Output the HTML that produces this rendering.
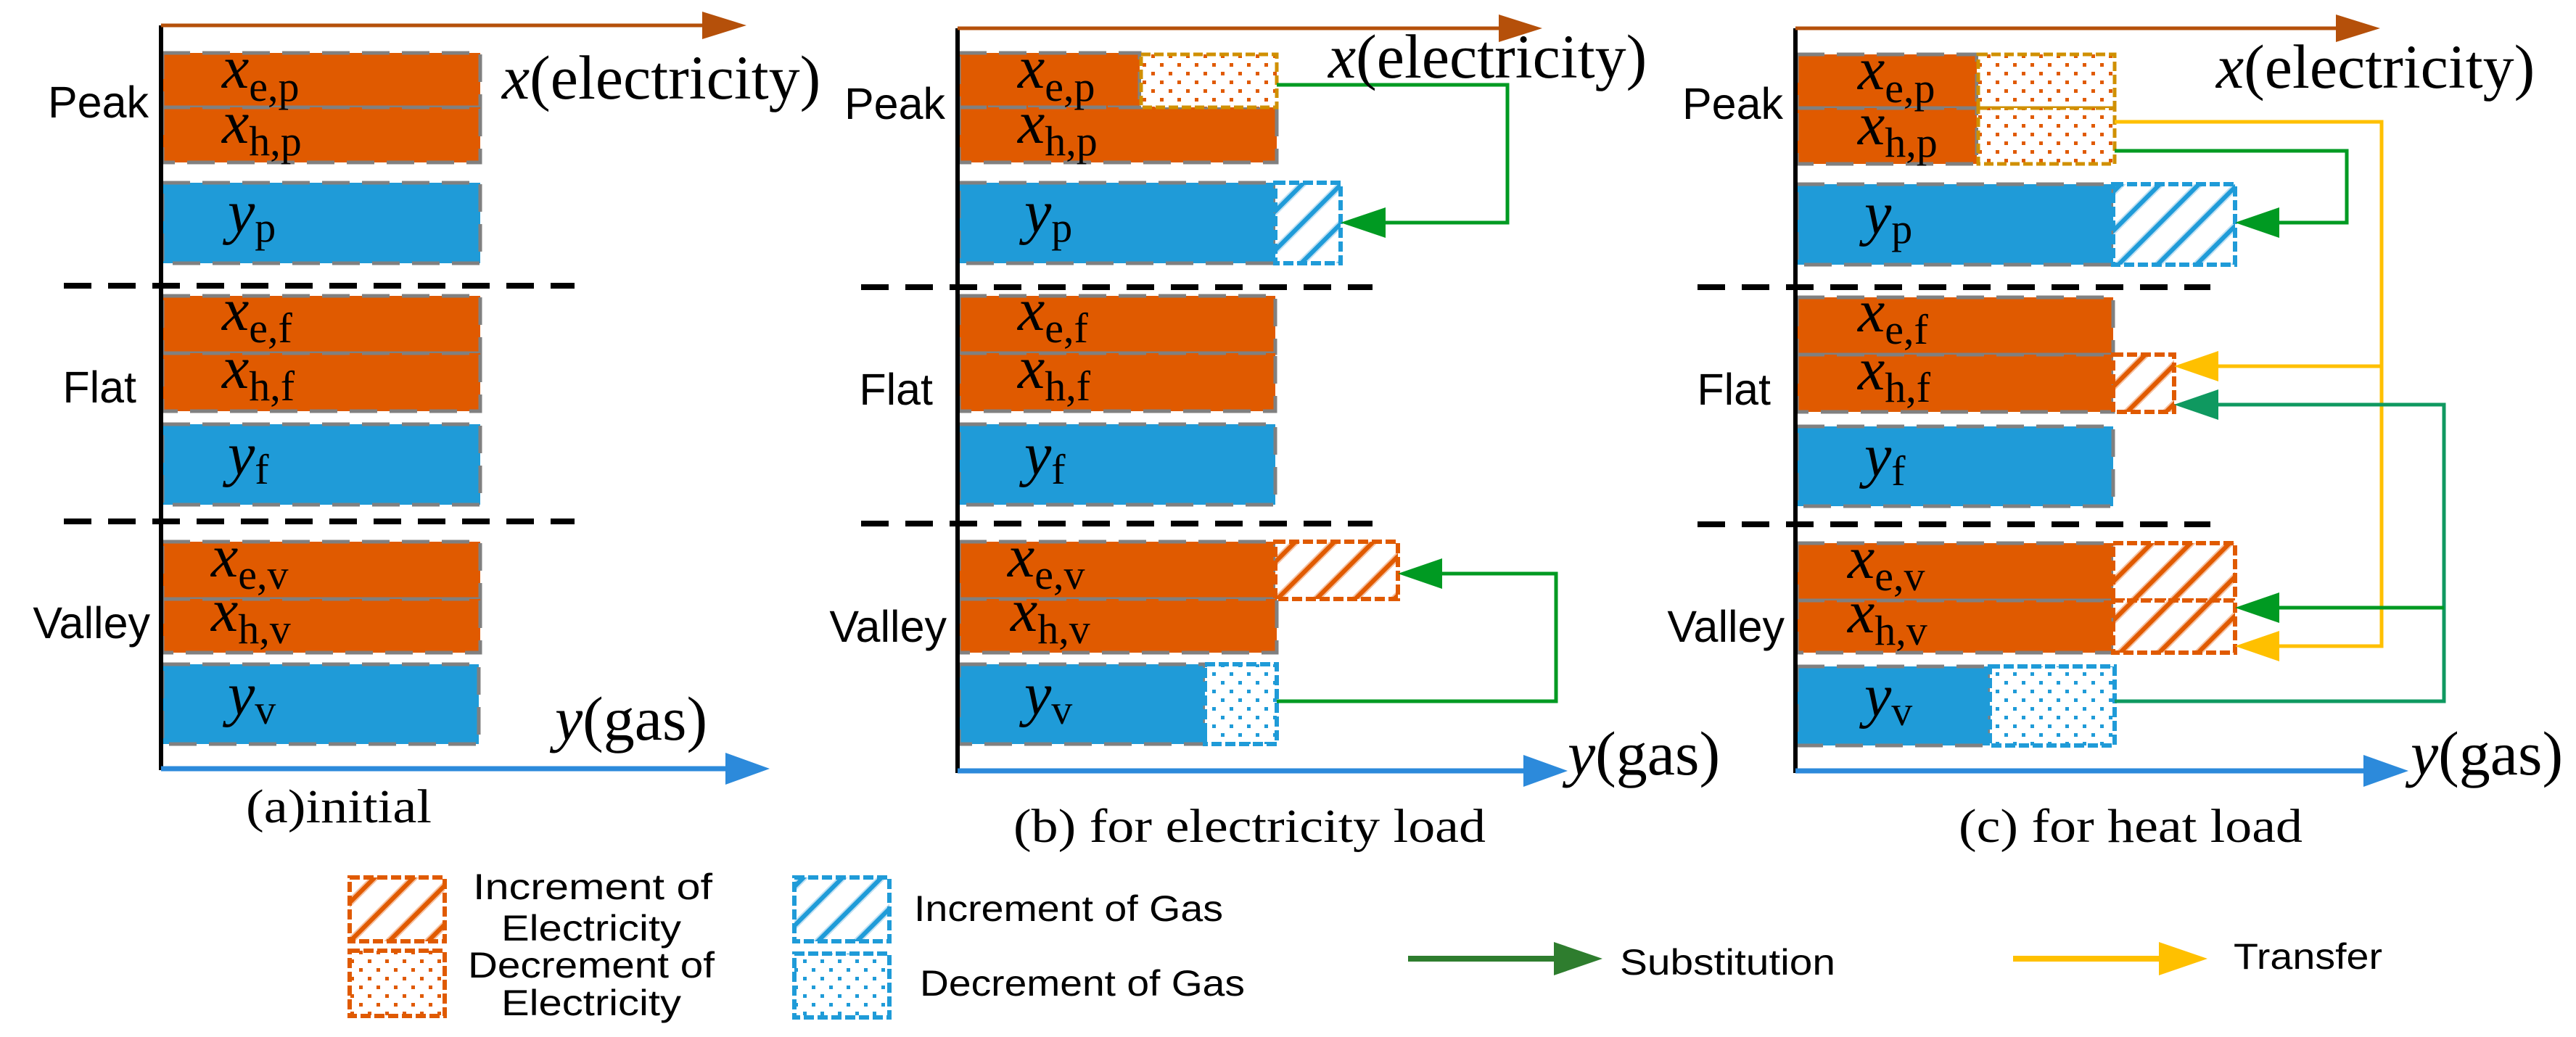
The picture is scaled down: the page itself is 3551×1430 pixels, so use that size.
<!DOCTYPE html>
<html><head><meta charset="utf-8"><style>
html,body{margin:0;padding:0;background:#fff}
svg{display:block}
.lab{font-family:"Liberation Sans",sans-serif;font-size:61px;fill:#000}
.m{font-family:"Liberation Serif",serif;font-size:84px;font-style:italic;fill:#000}
.s{font-style:normal;font-size:58px}
.cap{font-family:"Liberation Serif",serif;font-size:66px;fill:#000}
.ax{font-family:"Liberation Serif",serif;font-size:86px;fill:#000}
.lg{font-family:"Liberation Sans",sans-serif;font-size:50px;fill:#000}
</style></head><body>
<svg width="3551" height="1430" viewBox="0 0 3551 1430" xmlns="http://www.w3.org/2000/svg">
<defs>
<pattern id="dotO" width="24" height="24" patternUnits="userSpaceOnUse"><rect width="24" height="24" fill="#fff"/><rect x="3" y="3" width="5" height="5" fill="#E05A00"/><rect x="15" y="15" width="5" height="5" fill="#E05A00"/></pattern>
<pattern id="dotB" width="24" height="24" patternUnits="userSpaceOnUse"><rect width="24" height="24" fill="#fff"/><rect x="3" y="3" width="5" height="5" fill="#1F9BD8"/><rect x="15" y="15" width="5" height="5" fill="#1F9BD8"/></pattern>
<pattern id="hatO" width="38" height="38" patternUnits="userSpaceOnUse" patternTransform="rotate(45)"><rect width="38" height="38" fill="#fff"/><rect x="0" y="0" width="10" height="38" fill="#F5C0A0"/><rect x="2" y="0" width="6" height="38" fill="#E05A00"/></pattern>
<pattern id="hatB" width="38" height="38" patternUnits="userSpaceOnUse" patternTransform="rotate(45)"><rect width="38" height="38" fill="#fff"/><rect x="0" y="0" width="10" height="38" fill="#BFE0F3"/><rect x="2" y="0" width="6" height="38" fill="#1F9BD8"/></pattern>
</defs>

<!-- ================= PANEL A ================= -->
<g stroke="#808080" stroke-width="5" stroke-dasharray="38 17">
<rect x="224" y="73" width="438" height="75" fill="#E05A00"/>
<rect x="224" y="148" width="438" height="76" fill="#E05A00"/>
<rect x="224" y="252" width="438" height="111" fill="#1F9BD8"/>
<rect x="224" y="408" width="438" height="79" fill="#E05A00"/>
<rect x="224" y="487" width="438" height="80" fill="#E05A00"/>
<rect x="224" y="585" width="438" height="111" fill="#1F9BD8"/>
<rect x="224" y="747" width="438" height="79" fill="#E05A00"/>
<rect x="224" y="826" width="438" height="74" fill="#E05A00"/>
<rect x="224" y="916" width="436" height="110" fill="#1F9BD8"/>
</g>
<g stroke="#000" stroke-width="8" stroke-dasharray="38 23"><line x1="88" y1="394" x2="792" y2="394"/><line x1="88" y1="719" x2="792" y2="719"/></g>
<line x1="222" y1="35" x2="222" y2="1062" stroke="#000" stroke-width="6"/>
<line x1="222" y1="35" x2="970" y2="35" stroke="#B5500A" stroke-width="5"/>
<polygon points="968,16 1029,35 968,54" fill="#B5500A"/>
<line x1="222" y1="1060" x2="1002" y2="1060" stroke="#2C8ADB" stroke-width="7"/>
<polygon points="1000,1038 1061,1060 1000,1082" fill="#2C8ADB"/>
<text class="lab" x="205" y="162" text-anchor="end">Peak</text>
<text class="lab" x="188" y="555" text-anchor="end">Flat</text>
<text class="lab" x="207" y="880" text-anchor="end">Valley</text>
<text class="m" x="306" y="121">x<tspan class="s" dy="18">e,p</tspan></text>
<text class="m" x="306" y="197">x<tspan class="s" dy="17">h,p</tspan></text>
<text class="m" x="314" y="320">y<tspan class="s" dy="13">p</tspan></text>
<text class="m" x="306" y="455">x<tspan class="s" dy="17">e,f</tspan></text>
<text class="m" x="306" y="535">x<tspan class="s" dy="17">h,f</tspan></text>
<text class="m" x="314" y="654">y<tspan class="s" dy="13">f</tspan></text>
<text class="m" x="291" y="795">x<tspan class="s" dy="17">e,v</tspan></text>
<text class="m" x="291" y="870">x<tspan class="s" dy="17">h,v</tspan></text>
<text class="m" x="314" y="985">y<tspan class="s" dy="13">v</tspan></text>
<text class="ax" x="692" y="136"><tspan font-style="italic">x</tspan>(electricity)</text>
<text class="ax" x="765" y="1020"><tspan font-style="italic">y</tspan>(gas)</text>
<text class="cap" x="339" y="1134" textLength="256" lengthAdjust="spacingAndGlyphs">(a)initial</text>

<!-- ================= PANEL B ================= -->
<g stroke="#808080" stroke-width="5" stroke-dasharray="38 17">
<rect x="1322" y="73" width="249" height="75" fill="#E05A00"/>
<rect x="1322" y="148" width="438" height="76" fill="#E05A00"/>
<rect x="1322" y="252" width="436" height="111" fill="#1F9BD8"/>
<rect x="1322" y="408" width="436" height="79" fill="#E05A00"/>
<rect x="1322" y="487" width="436" height="80" fill="#E05A00"/>
<rect x="1322" y="585" width="436" height="111" fill="#1F9BD8"/>
<rect x="1322" y="747" width="436" height="79" fill="#E05A00"/>
<rect x="1322" y="826" width="438" height="74" fill="#E05A00"/>
<rect x="1322" y="916" width="339" height="110" fill="#1F9BD8"/>
</g>
<rect x="1573" y="75" width="187" height="73" fill="url(#dotO)" stroke="#D09000" stroke-width="5" stroke-dasharray="13 5"/>
<rect x="1758" y="252" width="90" height="111" fill="url(#hatB)" stroke="#1F9BD8" stroke-width="6" stroke-dasharray="14 5"/>
<rect x="1758" y="747" width="169" height="79" fill="url(#hatO)" stroke="#E05A00" stroke-width="6" stroke-dasharray="14 5"/>
<rect x="1661" y="916" width="99" height="110" fill="url(#dotB)" stroke="#1F9BD8" stroke-width="6" stroke-dasharray="14 5"/>
<g stroke="#000" stroke-width="8" stroke-dasharray="38 23"><line x1="1187" y1="396" x2="1892" y2="396"/><line x1="1187" y1="722" x2="1892" y2="722"/></g>
<line x1="1320" y1="39" x2="1320" y2="1066" stroke="#000" stroke-width="6"/>
<line x1="1320" y1="39" x2="2068" y2="39" stroke="#B5500A" stroke-width="5"/>
<polygon points="2066,20 2126,39 2066,58" fill="#B5500A"/>
<line x1="1320" y1="1063" x2="2102" y2="1063" stroke="#2C8ADB" stroke-width="7"/>
<polygon points="2100,1041 2161,1063 2100,1085" fill="#2C8ADB"/>
<polyline points="1760,117 2078,117 2078,307 1905,307" fill="none" stroke="#009A22" stroke-width="5"/>
<polygon points="1848,307 1910,286 1910,328" fill="#009A22"/>
<polyline points="1760,967 2145,967 2145,791 1980,791" fill="none" stroke="#009A22" stroke-width="5"/>
<polygon points="1927,791 1988,770 1988,812" fill="#009A22"/>
<text class="lab" x="1303" y="164" text-anchor="end">Peak</text>
<text class="lab" x="1286" y="558" text-anchor="end">Flat</text>
<text class="lab" x="1305" y="885" text-anchor="end">Valley</text>
<text class="m" x="1403" y="121">x<tspan class="s" dy="18">e,p</tspan></text>
<text class="m" x="1403" y="197">x<tspan class="s" dy="17">h,p</tspan></text>
<text class="m" x="1412" y="320">y<tspan class="s" dy="13">p</tspan></text>
<text class="m" x="1403" y="455">x<tspan class="s" dy="17">e,f</tspan></text>
<text class="m" x="1403" y="535">x<tspan class="s" dy="17">h,f</tspan></text>
<text class="m" x="1412" y="654">y<tspan class="s" dy="13">f</tspan></text>
<text class="m" x="1389" y="795">x<tspan class="s" dy="17">e,v</tspan></text>
<text class="m" x="1393" y="870">x<tspan class="s" dy="17">h,v</tspan></text>
<text class="m" x="1412" y="985">y<tspan class="s" dy="13">v</tspan></text>
<text class="ax" x="1831" y="107"><tspan font-style="italic">x</tspan>(electricity)</text>
<text class="ax" x="2161" y="1068"><tspan font-style="italic">y</tspan>(gas)</text>
<text class="cap" x="1397" y="1161" textLength="651" lengthAdjust="spacingAndGlyphs">(b) for electricity load</text>

<!-- ================= PANEL C ================= -->
<g stroke="#808080" stroke-width="5" stroke-dasharray="38 17">
<rect x="2477" y="75" width="248" height="74" fill="#E05A00"/>
<rect x="2477" y="149" width="248" height="77" fill="#E05A00"/>
<rect x="2477" y="254" width="436" height="111" fill="#1F9BD8"/>
<rect x="2477" y="410" width="436" height="79" fill="#E05A00"/>
<rect x="2477" y="489" width="436" height="79" fill="#E05A00"/>
<rect x="2477" y="588" width="436" height="110" fill="#1F9BD8"/>
<rect x="2477" y="749" width="436" height="79" fill="#E05A00"/>
<rect x="2477" y="828" width="436" height="72" fill="#E05A00"/>
<rect x="2477" y="919" width="266" height="109" fill="#1F9BD8"/>
</g>
<g stroke="#D09000" stroke-width="5" stroke-dasharray="13 5">
<rect x="2727" y="75" width="188" height="74" fill="url(#dotO)"/>
<rect x="2727" y="149" width="188" height="77" fill="url(#dotO)"/>
</g>
<rect x="2913" y="254" width="168" height="111" fill="url(#hatB)" stroke="#1F9BD8" stroke-width="6" stroke-dasharray="14 5"/>
<rect x="2913" y="489" width="84" height="79" fill="url(#hatO)" stroke="#E05A00" stroke-width="6" stroke-dasharray="14 5"/>
<rect x="2913" y="749" width="168" height="79" fill="url(#hatO)" stroke="#E05A00" stroke-width="6" stroke-dasharray="14 5"/>
<rect x="2913" y="828" width="168" height="72" fill="url(#hatO)" stroke="#E05A00" stroke-width="6" stroke-dasharray="14 5"/>
<rect x="2743" y="919" width="172" height="109" fill="url(#dotB)" stroke="#1F9BD8" stroke-width="6" stroke-dasharray="14 5"/>
<g stroke="#000" stroke-width="8" stroke-dasharray="38 23"><line x1="2340" y1="396" x2="3047" y2="396"/><line x1="2340" y1="723" x2="3047" y2="723"/></g>
<line x1="2475" y1="39" x2="2475" y2="1066" stroke="#000" stroke-width="6"/>
<line x1="2475" y1="39" x2="3222" y2="39" stroke="#B5500A" stroke-width="5"/>
<polygon points="3220,20 3281,39 3220,58" fill="#B5500A"/>
<line x1="2475" y1="1063" x2="3260" y2="1063" stroke="#2C8ADB" stroke-width="7"/>
<polygon points="3258,1041 3320,1063 3258,1085" fill="#2C8ADB"/>
<polyline points="2915,168 3283,168 3283,891 3140,891" fill="none" stroke="#FFC000" stroke-width="5"/>
<polygon points="3081,891 3142,870 3142,912" fill="#FFC000"/>
<polyline points="3283,505 3055,505" fill="none" stroke="#FFC000" stroke-width="5"/>
<polygon points="2997,505 3058,484 3058,526" fill="#FFC000"/>
<polyline points="2915,208 3235,208 3235,307 3140,307" fill="none" stroke="#009A22" stroke-width="5"/>
<polygon points="3081,307 3142,286 3142,328" fill="#009A22"/>
<polyline points="2915,967 3369,967 3369,558 3055,558" fill="none" stroke="#0F9960" stroke-width="5"/>
<polygon points="2997,558 3058,537 3058,579" fill="#0F9960"/>
<polyline points="3369,838 3140,838" fill="none" stroke="#009A22" stroke-width="5"/>
<polygon points="3081,838 3142,817 3142,859" fill="#009A22"/>
<text class="lab" x="2458" y="164" text-anchor="end">Peak</text>
<text class="lab" x="2441" y="558" text-anchor="end">Flat</text>
<text class="lab" x="2460" y="885" text-anchor="end">Valley</text>
<text class="m" x="2561" y="123">x<tspan class="s" dy="18">e,p</tspan></text>
<text class="m" x="2561" y="199">x<tspan class="s" dy="17">h,p</tspan></text>
<text class="m" x="2570" y="322">y<tspan class="s" dy="13">p</tspan></text>
<text class="m" x="2561" y="457">x<tspan class="s" dy="17">e,f</tspan></text>
<text class="m" x="2561" y="537">x<tspan class="s" dy="17">h,f</tspan></text>
<text class="m" x="2570" y="656">y<tspan class="s" dy="13">f</tspan></text>
<text class="m" x="2547" y="797">x<tspan class="s" dy="17">e,v</tspan></text>
<text class="m" x="2547" y="872">x<tspan class="s" dy="17">h,v</tspan></text>
<text class="m" x="2570" y="987">y<tspan class="s" dy="13">v</tspan></text>
<text class="ax" x="3055" y="121"><tspan font-style="italic">x</tspan>(electricity)</text>
<text class="ax" x="3323" y="1068"><tspan font-style="italic">y</tspan>(gas)</text>
<text class="cap" x="2700" y="1161" textLength="474" lengthAdjust="spacingAndGlyphs">(c) for heat load</text>

<!-- ================= LEGEND ================= -->
<rect x="482" y="1210" width="131" height="88" fill="url(#hatO)" stroke="#E05A00" stroke-width="6" stroke-dasharray="14 5"/>
<rect x="482" y="1311" width="131" height="90" fill="url(#dotO)" stroke="#E05A00" stroke-width="6" stroke-dasharray="14 5"/>
<rect x="1095" y="1210" width="131" height="88" fill="url(#hatB)" stroke="#1F9BD8" stroke-width="6" stroke-dasharray="14 5"/>
<rect x="1095" y="1315" width="131" height="88" fill="url(#dotB)" stroke="#1F9BD8" stroke-width="6" stroke-dasharray="14 5"/>
<text class="lg" x="817" y="1240" text-anchor="middle" textLength="330" lengthAdjust="spacingAndGlyphs">Increment of</text>
<text class="lg" x="815" y="1297" text-anchor="middle" textLength="248" lengthAdjust="spacingAndGlyphs">Electricity</text>
<text class="lg" x="815" y="1348" text-anchor="middle" textLength="340" lengthAdjust="spacingAndGlyphs">Decrement of</text>
<text class="lg" x="815" y="1400" text-anchor="middle" textLength="248" lengthAdjust="spacingAndGlyphs">Electricity</text>
<text class="lg" x="1260" y="1270" textLength="426" lengthAdjust="spacingAndGlyphs">Increment of Gas</text>
<text class="lg" x="1268" y="1373" textLength="448" lengthAdjust="spacingAndGlyphs">Decrement of Gas</text>
<line x1="1941" y1="1322" x2="2145" y2="1322" stroke="#2E7D2E" stroke-width="8"/>
<polygon points="2142,1299 2209,1322 2142,1345" fill="#2E7D2E"/>
<text class="lg" x="2233" y="1344" textLength="297" lengthAdjust="spacingAndGlyphs">Substitution</text>
<line x1="2775" y1="1322" x2="2980" y2="1322" stroke="#FFC000" stroke-width="8"/>
<polygon points="2976,1299 3043,1322 2976,1345" fill="#FFC000"/>
<text class="lg" x="3079" y="1336" textLength="205" lengthAdjust="spacingAndGlyphs">Transfer</text>
</svg>
</body></html>
